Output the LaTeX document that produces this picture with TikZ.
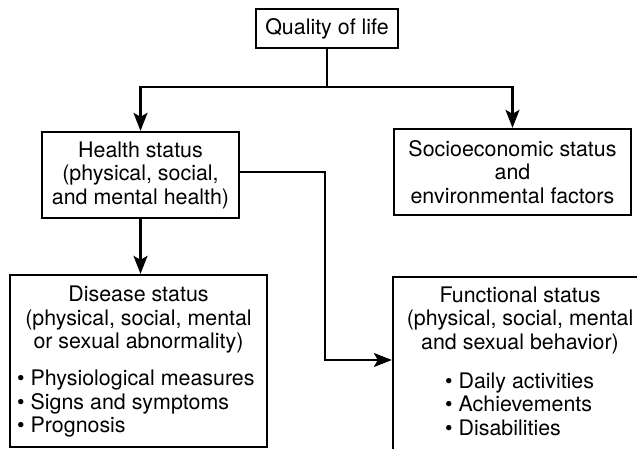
\documentclass[tikz,border=0pt]{standalone}
\usepackage{fontspec}
\setmainfont{TeX Gyre Heros}
\usetikzlibrary{arrows.meta}
\begin{document}
\begin{tikzpicture}[x=1pt,y=-1pt,
  every node/.style={font=\fontsize{21.4}{23.5}\selectfont, inner sep=0pt},
  box/.style={draw, line width=2.3pt, align=center},
  conn/.style={line width=2.1pt},
  arr/.style={conn, -{Stealth[length=18pt,width=14pt,inset=4pt]}}]
  \useasboundingbox (0,0) rectangle (637,449);
  \clip (0,0) rectangle (637,449);

  % boxes
  \node[box, minimum width=142pt, minimum height=39pt] (qol) at (327,28.5) {Quality of life};
  \node[box, minimum width=197pt, minimum height=86pt] (health) at (140.5,175)
    {Health status\\(physical, social,\\and mental health)};
  \node[box, minimum width=237pt, minimum height=86pt] (socio) at (512.5,172)
    {Socioeconomic status\\and\\environmental factors};
  \node[box, minimum width=257pt, minimum height=172pt] (disease) at (138.5,361) {};
  \node[box, minimum width=262pt, minimum height=190pt] (func) at (524,372) {};

  % box contents
  \node[align=center] (dhead) at (138.5,320)
    {Disease status\\(physical, social, mental\\or sexual abnormality)};
  \node[align=left, anchor=west] (dlist) at (17,404)
    {\textbullet\ Physiological measures\\\textbullet\ Signs and symptoms\\\textbullet\ Prognosis};
  \node[align=center] (fhead) at (520,320)
    {Functional status\\(physical, social, mental\\and sexual behavior)};
  \node[align=left, anchor=west] (flist) at (445,404)
    {\textbullet\ Daily activities\\\textbullet\ Achievements\\\textbullet\ Disabilities};

  % connectors
  \coordinate (split) at (327,87);
  \coordinate (bend) at (325,360);
  \draw[conn] (qol.south) -- (split);
  \draw[arr] (split) -| (health.north);
  \draw[arr] (split) -| (socio.north);
  \draw[arr] (health.south) -- (health.south |- disease.north);
  \draw[arr] (health.east |- 0,172) -| (bend) -- (bend -| func.west);
\end{tikzpicture}
\end{document}
